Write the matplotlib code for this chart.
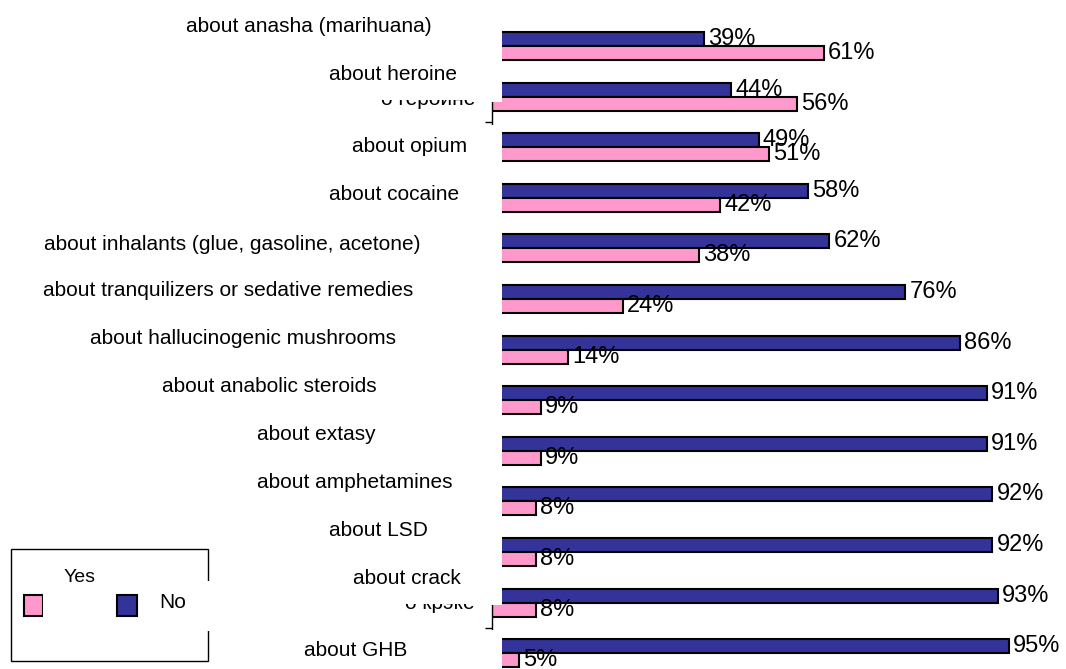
import numpy as np
import matplotlib.pyplot as plt
from matplotlib.patches import Rectangle

plt.rcParams['font.family'] = ['Liberation Sans', 'DejaVu Sans']

categories = ['about anasha (marihuana)', 'about heroine', 'about opium', 'about cocaine',
              'about inhalants (glue, gasoline, acetone)',
              'about tranquilizers or sedative remedies',
              'about hallucinogenic mushrooms', 'about anabolic steroids', 'about extasy',
              'about amphetamines', 'about LSD', 'about crack', 'about GHB']
yes = [61, 56, 51, 42, 38, 24, 14, 9, 9, 8, 8, 8, 5]
no = [39, 44, 49, 58, 62, 76, 86, 91, 91, 92, 92, 93, 95]

# old russian captions that peek out from under the english ones
ru_labels = {1: 'о героине', 11: 'о крэке'}

PINK = '#FF99CC'
BLUE = '#333399'

W, H = 1066, 669
fig = plt.figure(figsize=(W / 100, H / 100), dpi=100)


def box(x0, y0, x1, y1, **kw):
    # rectangle in pixel coords, y measured from the top
    r = Rectangle((x0 / W, 1 - y1 / H), (x1 - x0) / W, (y1 - y0) / H,
                  transform=fig.transFigure, **kw)
    fig.add_artist(r)
    return r


# category labels are free text boxes, centred here (pixels from top-left)
label_x = [309, 393, 410, 394, 232, 228, 243, 269, 316, 355, 378, 407, 356]
label_y = [27, 75, 147, 194, 244, 291, 339, 387, 435, 482, 531, 578, 650]
ru_pos = {1: (475, 105), 11: (475, 609)}

x0_px = 492
px_per_pct = 5.44
row_px = 50.6
top_px = 46

ax = fig.add_axes([x0_px / W, 0, (W - x0_px) / W, 1])
ax.set_xlim(0, (W - x0_px) / px_per_pct)
ax.set_ylim((H - top_px) / row_px, -top_px / row_px)

n = len(categories)
y = np.arange(n)
bh = 14 / row_px
ax.barh(y - bh / 2, no, height=bh, color=BLUE, edgecolor='black', linewidth=1.5, zorder=2)
ax.barh(y + bh / 2, yes, height=bh, color=PINK, edgecolor='black', linewidth=1.5, zorder=2)

for i in range(n):
    ax.annotate(f'{no[i]}%', (no[i], y[i] - bh / 2), xytext=(3, 0), textcoords='offset points',
                va='center', ha='left', fontsize=17, zorder=4)
    ax.annotate(f'{yes[i]}%', (yes[i], y[i] + bh / 2), xytext=(3, 0), textcoords='offset points',
                va='center', ha='left', fontsize=17, zorder=4)

for s in ['top', 'right', 'bottom']:
    ax.spines[s].set_visible(False)
ax.spines['left'].set_linewidth(1)
ax.set_xticks([])
ax.set_yticks(np.arange(n - 1) + 0.5)
ax.set_yticklabels([])
ax.tick_params(axis='y', length=5, width=1, direction='out')

# most of the axis line sits under white boxes
box(476, 0, 502, 102, facecolor='white', edgecolor='none', zorder=5)
box(476, 124.5, 502, 605, facecolor='white', edgecolor='none', zorder=5)
box(476, 629.5, 502, H, facecolor='white', edgecolor='none', zorder=5)

for i, txt in ru_labels.items():
    rx, ry = ru_pos[i]
    fig.text(rx / W, 1 - ry / H, txt, ha='right', va='baseline', fontsize=15, zorder=4)
    box(370, ry - 24, 488, ry - 5, facecolor='white', edgecolor='none', zorder=5)

for i, lab in enumerate(categories):
    fig.text(label_x[i] / W, 1 - label_y[i] / H, lab, ha='center', va='center',
             fontsize=15, zorder=6)

# legend
box(11, 549, 208, 661, facecolor='none', edgecolor='black', linewidth=1, zorder=6)
box(205, 581, 211, 631, facecolor='white', edgecolor='none', zorder=7)
box(24, 595, 43, 616, facecolor=PINK, edgecolor='black', linewidth=1.5, zorder=6)
box(42.5, 593, 46, 618, facecolor='white', edgecolor='none', zorder=7)
box(117, 595, 137, 616, facecolor=BLUE, edgecolor='black', linewidth=1.5, zorder=6)
fig.text(80 / W, 1 - 578 / H, 'Yes', ha='center', va='center', fontsize=14, zorder=8)
fig.text(173 / W, 1 - 603 / H, 'No', ha='center', va='center', fontsize=15, zorder=8)

fig.savefig('out.png', dpi=100)
